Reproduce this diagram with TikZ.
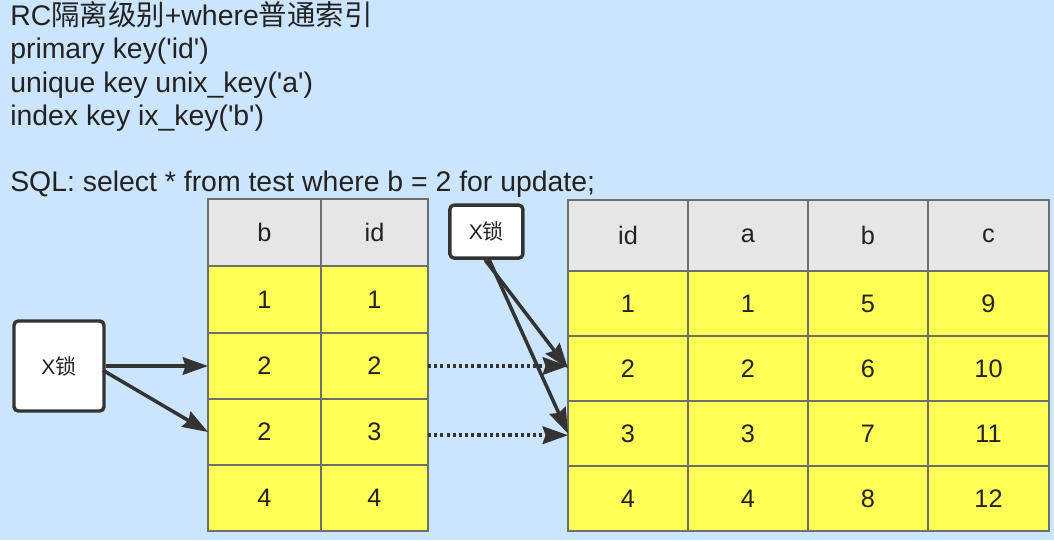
\documentclass[tikz,border=0pt]{standalone}
\usepackage{fontspec}
\setmainfont{Liberation Sans}
\newfontfamily\cjk{Noto Sans CJK SC}
\usepackage{tikz}
\usepackage{xcolor}
\usetikzlibrary{arrows.meta,positioning,calc}
\definecolor{skyback}{HTML}{CCE5FF}
\definecolor{headgray}{HTML}{E6E6E6}
\definecolor{rowyellow}{HTML}{FFFF55}
\definecolor{gridline}{HTML}{6E6E6E}
\definecolor{ink}{HTML}{222222}
\definecolor{arrink}{HTML}{333333}
\newcommand{\sq}{\textquotesingle}
\tikzset{
  hdcell/.style={draw=gridline,fill=headgray,line width=0.9pt,anchor=north west,
                 inner sep=0pt,outer sep=0pt,text=ink,
                 font=\fontsize{18}{20}\selectfont},
  datcell/.style={hdcell,fill=rowyellow},
  lockbox/.style={draw=arrink,fill=white,line width=2.4pt,rounded corners=3pt,
                  inner sep=0pt,text=ink,font=\fontsize{15}{18}\selectfont},
  titleline/.style={anchor=base west,inner sep=0pt,text=ink,
                    font=\fontsize{20.2}{24}\selectfont},
  lockarr/.style={-{Stealth[length=18pt,width=12.5pt,inset=2pt]},line width=2.5pt,
                  draw=arrink},
  linkarr/.style={lockarr,dash pattern=on 2.2pt off 2.2pt}
}

\begin{document}
\begin{tikzpicture}[x=1cm,y=1cm]
    \path[use as bounding box,fill=skyback] (0,0) rectangle (26.35,-13.5);
    % heading
    \node[titleline] (t1) at (0.25,-0.643) {RC{\cjk 隔离级别}+where{\cjk 普通索引}};
    \node[titleline] (t2) at (0.25,-1.47) {primary key(\sq id\sq)};
    \node[titleline] (t3) at (0.25,-2.30) {unique key unix\_key(\sq a\sq)};
    \node[titleline] (t4) at (0.25,-3.125) {index key ix\_key(\sq b\sq)};
    \node[titleline] (t5) at (0.25,-4.78) {SQL: select * from test where b = 2 for update;};
    % secondary index ix_key(b)
    \foreach \r/\sty/\yy/\hh/\vb/\vid in {0/hdcell/-4.975/1.675/b/id,
        1/datcell/-6.65/1.675/1/1, 2/datcell/-8.325/1.65/2/2,
        3/datcell/-9.975/1.65/2/3, 4/datcell/-11.625/1.65/4/4}{
      \node[\sty,minimum width=2.825cm,minimum height=\hh cm] (lt-\r-1)
        at (5.2,\yy) {\vb};
      \node[\sty,minimum width=2.675cm,minimum height=\hh cm] (lt-\r-2)
        at (lt-\r-1.north east) {\vid};
    }
    % clustered index
    \foreach \r/\sty/\yy/\hh/\va/\vb/\vc/\vd in {0/hdcell/-5.0/1.775/id/a/b/c,
        1/datcell/-6.775/1.625/1/1/5/9, 2/datcell/-8.4/1.625/2/2/6/10,
        3/datcell/-10.025/1.625/3/3/7/11, 4/datcell/-11.65/1.625/4/4/8/12}{
      \node[\sty,minimum width=3cm,minimum height=\hh cm] (rt-\r-1)
        at (14.2,\yy) {\va};
      \node[\sty,minimum width=3cm,minimum height=\hh cm] (rt-\r-2)
        at (rt-\r-1.north east) {\vb};
      \node[\sty,minimum width=3cm,minimum height=\hh cm] (rt-\r-3)
        at (rt-\r-2.north east) {\vc};
      \node[\sty,minimum width=3.025cm,minimum height=\hh cm] (rt-\r-4)
        at (rt-\r-3.north east) {\vd};
    }
    % locks
    \node[lockbox,minimum width=2.25cm,minimum height=2.25cm] (xl)
      at (1.475,-9.15) {X{\cjk 锁}};
    \node[lockbox,minimum width=1.825cm,minimum height=1.325cm] (xt)
      at (12.16,-5.79) {X{\cjk 锁}};
    \draw[lockarr] (xl.east) -- (lt-2-1.west);
    \draw[lockarr] ([xshift=-2pt,yshift=-3pt]xl.east) -- (lt-3-1.west);
    \draw[linkarr] (lt-2-2.east) -- (lt-2-2.east -| rt-2-1.west);
    \draw[linkarr] ([yshift=-0.08cm]lt-3-2.east) -- ([yshift=-0.08cm]lt-3-2.east -| rt-3-1.west);
    \draw[lockarr] ([xshift=-1pt]xt.south) -- (rt-2-1.west);
    \draw[lockarr] ([xshift=2pt]xt.south) -- (rt-3-1.west);
  \end{tikzpicture}
\end{document}
